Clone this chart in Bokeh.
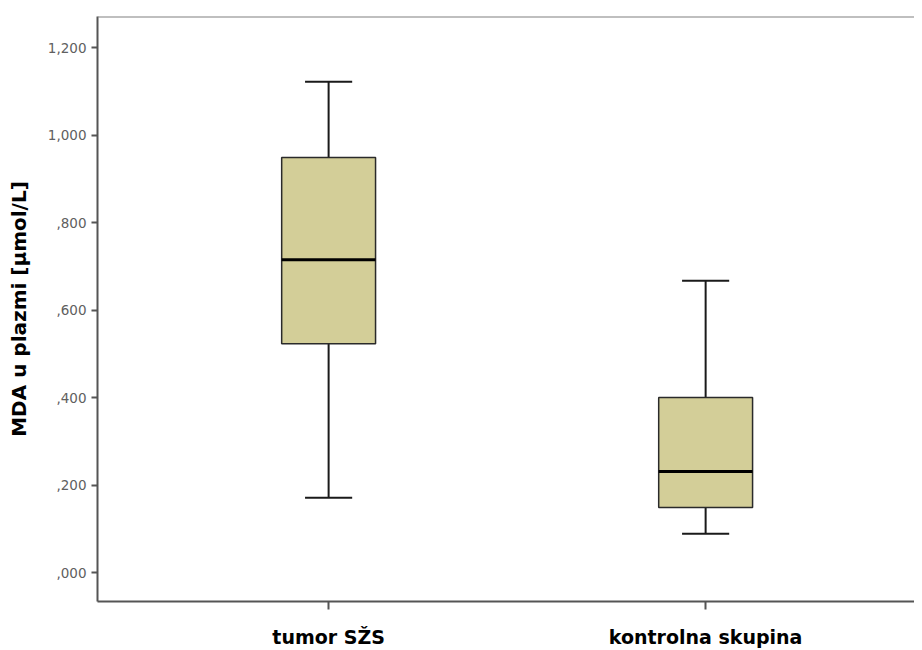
import numpy as np
from bokeh.plotting import figure
from bokeh.models import Range1d, FixedTicker, Span, ColumnDataSource
from bokeh.embed import file_html
from bokeh.resources import INLINE

categories = ["tumor SŽS", "kontrolna skupina"]
lower = [0.171, 0.089]
q1 = [0.523, 0.149]
median = [0.715, 0.231]
q3 = [0.949, 0.400]
upper = [1.122, 0.667]

y_ticks = [0.0, 0.2, 0.4, 0.6, 0.8, 1.0, 1.2]
y_tick_labels = [",000", ",200", ",400", ",600", ",800", "1,000", "1,200"]
y_label = "MDA u plazmi [µmol/L]"

x = np.arange(len(categories)) + 0.5
box_w = 0.249
cap_w = 0.125

src = ColumnDataSource(dict(x=x, lower=lower, q1=q1, median=median, q3=q3, upper=upper,
                            cl=x - cap_w / 2, cr=x + cap_w / 2,
                            bl=x - box_w / 2, br=x + box_w / 2))

y0, y1 = -0.066, 1.271
p = figure(width=914, height=650, output_backend="svg", toolbar_location=None,
           x_range=Range1d(-0.113, 2.054), y_range=Range1d(y0, y1),
           min_border_left=97, min_border_top=16, min_border_right=0, min_border_bottom=49)
p.outline_line_color = None
p.xgrid.visible = False
p.ygrid.visible = False

# whiskers
p.segment(x0="x", y0="q3", x1="x", y1="upper", source=src, line_color="#1a1a1a", line_width=2)
p.segment(x0="x", y0="lower", x1="x", y1="q1", source=src, line_color="#1a1a1a", line_width=2)
p.segment(x0="cl", y0="upper", x1="cr", y1="upper", source=src, line_color="#1a1a1a", line_width=2)
p.segment(x0="cl", y0="lower", x1="cr", y1="lower", source=src, line_color="#1a1a1a", line_width=2)
# boxes
p.quad(left="bl", right="br", bottom="q1", top="q3", source=src,
       fill_color="#d3ce98", line_color="#2a2a2a", line_width=1.5)
# medians
p.segment(x0="bl", y0="median", x1="br", y1="median", source=src, line_color="#000000", line_width=3)

p.add_layout(Span(location=y1, dimension="width", line_color="#808080", line_width=2))

# y axis
p.yaxis.ticker = FixedTicker(ticks=y_ticks)
p.yaxis.major_label_overrides = {t: l for t, l in zip(y_ticks, y_tick_labels)}
p.yaxis.axis_label = y_label
p.yaxis.axis_label_text_font = "DejaVu Sans"
p.yaxis.axis_label_text_font_style = "bold"
p.yaxis.axis_label_text_font_size = "20px"
p.yaxis.axis_label_text_color = "#000000"
p.yaxis.axis_label_standoff = 14
p.yaxis.major_label_text_font = "DejaVu Sans"
p.yaxis.major_label_text_font_size = "13.5px"
p.yaxis.major_label_text_color = "#606060"
p.yaxis.major_label_standoff = 5
p.yaxis.axis_line_color = "#555555"
p.yaxis.axis_line_width = 2
p.yaxis.major_tick_line_color = "#555555"
p.yaxis.major_tick_line_width = 2
p.yaxis.major_tick_in = 0
p.yaxis.major_tick_out = 6
p.yaxis.minor_tick_line_color = None

# x axis
p.xaxis.ticker = FixedTicker(ticks=list(x))
p.xaxis.major_label_overrides = {float(t): c for t, c in zip(x, categories)}
p.xaxis.major_label_text_font = "DejaVu Sans"
p.xaxis.major_label_text_font_style = "bold"
p.xaxis.major_label_text_font_size = "19px"
p.xaxis.major_label_text_color = "#000000"
p.xaxis.major_label_standoff = 16
p.xaxis.axis_line_color = "#555555"
p.xaxis.axis_line_width = 2
p.xaxis.major_tick_line_color = "#555555"
p.xaxis.major_tick_line_width = 2
p.xaxis.major_tick_in = 0
p.xaxis.major_tick_out = 8
p.xaxis.minor_tick_line_color = None

open("out.html", "w").write(file_html(p, INLINE))
